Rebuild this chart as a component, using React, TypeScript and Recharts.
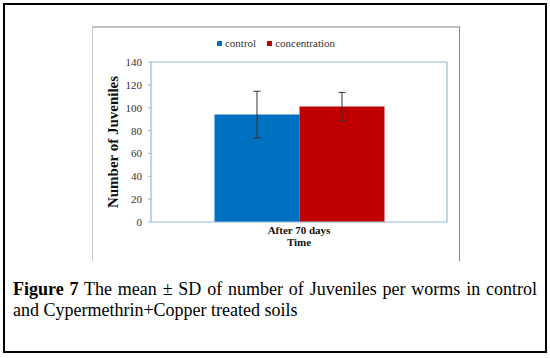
import React from 'react';
import { BarChart, Bar, XAxis, YAxis, ErrorBar, Legend } from 'recharts';

const categories = ['After 70 days'];
const controlMeans = [94];
const controlSD = [20.4];
const concentrationMeans = [101];
const concentrationSD = [12.4];
const yTicks = [0, 20, 40, 60, 80, 100, 120, 140];

const data = categories.map((name, i) => ({
  name,
  control: controlMeans[i],
  controlSD: controlSD[i],
  concentration: concentrationMeans[i],
  concentrationSD: concentrationSD[i],
}));

const AXIS_BLUE = '#9ab7da';
const BLUE = '#0070C0';
const RED = '#C00000';
const SERIF = '"Liberation Serif", "Times New Roman", serif';

const legendItems = [
  { label: 'control', color: BLUE },
  { label: 'concentration', color: RED },
];

const LegendContent = () => (
  <div
    style={{
      display: 'flex',
      justifyContent: 'center',
      alignItems: 'center',
      fontFamily: SERIF,
      fontSize: 11,
      color: '#333',
      lineHeight: '13px',
      height: 13,
    }}
  >
    {legendItems.map((it, i) => (
      <div key={it.label} style={{ display: 'flex', alignItems: 'center', marginLeft: i === 0 ? 0 : 11 }}>
        <span style={{ display: 'inline-block', width: 5, height: 5, background: it.color, marginRight: 3 }} />
        <span>{it.label}</span>
      </div>
    ))}
  </div>
);

const XTick = (props: any) => {
  const { x, y, payload } = props;
  return (
    <text x={x} y={y + 12} textAnchor="middle" fontFamily={SERIF} fontSize={11} fontWeight="bold" fill="#111">
      {payload.value}
    </text>
  );
};

const YTick = (props: any) => {
  const { x, y, payload } = props;
  return (
    <text x={x} y={y} dy={4} textAnchor="end" fontFamily={SERIF} fontSize={11} fill="#333">
      {payload.value}
    </text>
  );
};

const TimeLabel = (props: any) => {
  const vb = props.viewBox || {};
  return (
    <text
      x={vb.x + vb.width / 2}
      y={vb.y + 23.5}
      textAnchor="middle"
      fontFamily={SERIF}
      fontSize={11}
      fontWeight="bold"
      fill="#111"
    >
      Time
    </text>
  );
};

const YLabel = (props: any) => {
  const vb = props.viewBox || {};
  const cx = 20;
  const cy = vb.y + vb.height / 2;
  return (
    <text
      x={cx}
      y={cy}
      transform={`rotate(-90 ${cx} ${cy})`}
      textAnchor="middle"
      dominantBaseline="central"
      fontFamily={SERIF}
      fontSize={15}
      fontWeight="bold"
      fill="#111"
    >
      Number of Juveniles
    </text>
  );
};

export default function App() {
  return (
    <div style={{ position: 'absolute', left: 0, top: 0, width: 550, height: 358, background: '#fff' }}>
      <div
        style={{
          position: 'absolute',
          left: 3,
          top: 3,
          width: 544,
          height: 350,
          border: '2px solid #000',
          boxSizing: 'border-box',
        }}
      />
      <div
        style={{
          position: 'absolute',
          left: 92,
          top: 26,
          width: 368,
          height: 235,
          borderTop: '2px solid #c0c0c0',
          borderLeft: '1px solid #c8c8c8',
          borderRight: '1.5px solid #8a8a8a',
          boxSizing: 'border-box',
        }}
      />
      <div style={{ position: 'absolute', left: 93, top: 28 }}>
        <BarChart
          width={366}
          height={233}
          data={data}
          margin={{ top: 20, right: 11, left: 0, bottom: 0 }}
          barCategoryGap="21.45%"
          barGap={0}
        >
          <Legend verticalAlign="top" height={13} wrapperStyle={{ top: 9, left: 0, width: 366 }} content={<LegendContent />} />
          <XAxis
            dataKey="name"
            height={39}
            tickSize={0}
            tickMargin={0}
            tick={<XTick />}
            axisLine={{ stroke: AXIS_BLUE, strokeWidth: 1.2 }}
            label={<TimeLabel />}
          />
          <XAxis
            xAxisId="top"
            dataKey="name"
            orientation="top"
            height={1}
            tick={false}
            tickLine={false}
            axisLine={{ stroke: AXIS_BLUE, strokeWidth: 1.2 }}
          />
          <YAxis
            width={58}
            domain={[0, 140]}
            ticks={yTicks}
            interval={0}
            tickSize={3}
            tickMargin={6}
            tick={<YTick />}
            tickLine={{ stroke: AXIS_BLUE }}
            axisLine={{ stroke: AXIS_BLUE, strokeWidth: 1.2 }}
            label={<YLabel />}
          />
          <YAxis
            yAxisId="right"
            orientation="right"
            width={1}
            domain={[0, 140]}
            tick={false}
            tickLine={false}
            axisLine={{ stroke: AXIS_BLUE, strokeWidth: 1.2 }}
          />
          <Bar dataKey="control" name="control" fill={BLUE} isAnimationActive={false}>
            <ErrorBar dataKey="controlSD" width={3.5} stroke="#333" strokeWidth={1} direction="y" />
          </Bar>
          <Bar dataKey="concentration" name="concentration" fill={RED} isAnimationActive={false}>
            <ErrorBar dataKey="concentrationSD" width={3.5} stroke="#333" strokeWidth={1} direction="y" />
          </Bar>
        </BarChart>
      </div>
      <div
        style={{
          position: 'absolute',
          left: 13,
          top: 279,
          width: 524,
          fontFamily: SERIF,
          fontSize: 18,
          lineHeight: '21px',
          color: '#000',
        }}
      >
        <div style={{ textAlign: 'justify', textAlignLast: 'justify', whiteSpace: 'nowrap' as any }}>
          <b>Figure 7</b> The mean ± SD of number of Juveniles per worms in control
        </div>
        <div style={{ whiteSpace: 'nowrap' }}>and Cypermethrin+Copper treated soils</div>
      </div>
    </div>
  );
}
